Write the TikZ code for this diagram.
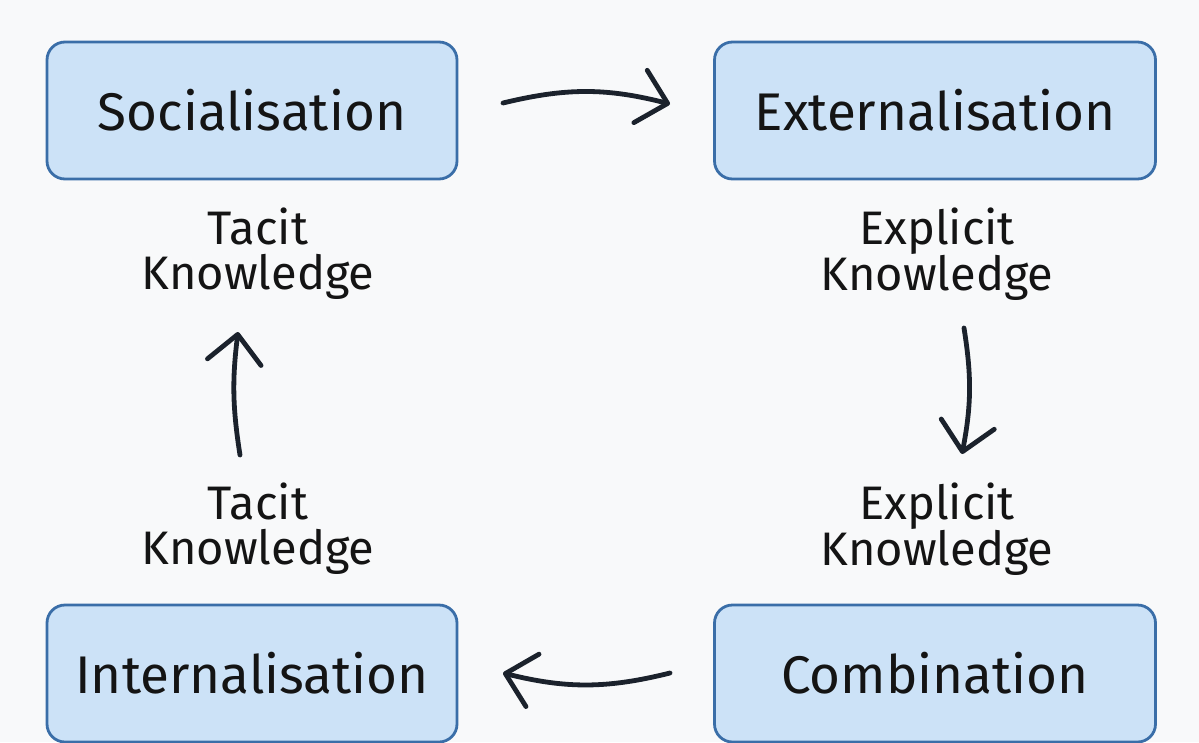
\documentclass[tikz,border=0pt]{standalone}
\usepackage{fontspec}
\setmainfont{Fira Sans}
\usetikzlibrary{arrows.meta}
\definecolor{bg}{HTML}{F8F9FA}
\definecolor{boxfill}{HTML}{CCE2F7}
\definecolor{boxline}{HTML}{3A6EA8}
\definecolor{ink}{HTML}{1B222C}
\definecolor{txt}{HTML}{141414}
\tikzset{
  modebox/.style={draw=boxline, line width=2.8pt, fill=boxfill, rounded corners=18pt,
    minimum width=410pt, minimum height=137pt, inner sep=0pt, text=txt,
    font=\fontsize{53}{60}\selectfont},
  kndlabel/.style={align=center, text=txt, inner sep=0pt,
    font=\fontsize{47}{45}\selectfont},
  flow/.style={draw=ink, line width=4.8pt, line cap=round,
    -{Straight Barb[length=28pt, width=54pt, line width=4.8pt, round]}}
}
\begin{document}
\begin{tikzpicture}[x=1pt, y=-1pt]
  \fill[bg] (0,0) rectangle (1199,742);
  \useasboundingbox (0,0) rectangle (1199,742);
  \node[modebox] (soc) at (252,110.5) {Socialisation};
  \node[modebox, minimum width=441pt] (ext) at (935,110.5) {Externalisation};
  \node[modebox] (int) at (252,673.5) {Internalisation};
  \node[modebox, minimum width=441pt] (com) at (935,673.5) {Combination};
  \node[kndlabel] (tk1) at (258,254) {Tacit\\Knowledge};
  \node[kndlabel] (ek1) at (937,254) {Explicit\\Knowledge};
  \node[kndlabel] (tk2) at (258,529) {Tacit\\Knowledge};
  \node[kndlabel] (ek2) at (937,529) {Explicit\\Knowledge};
  \coordinate (a1s) at (503,103);
  \coordinate (a1e) at (670,104);
  \coordinate (a2s) at (964,328);
  \coordinate (a2e) at (962,454);
  \coordinate (a3s) at (670,673);
  \coordinate (a3e) at (503,673);
  \coordinate (a4s) at (240,455);
  \coordinate (a4e) at (238,332);
  \draw[flow] (a1s) to[bend left=14] (a1e);
  \draw[flow] (a2s) to[bend left=10] (a2e);
  \draw[flow] (a3s) to[bend left=14] (a3e);
  \draw[flow] (a4s) to[bend left=8] (a4e);
\end{tikzpicture}
\end{document}
